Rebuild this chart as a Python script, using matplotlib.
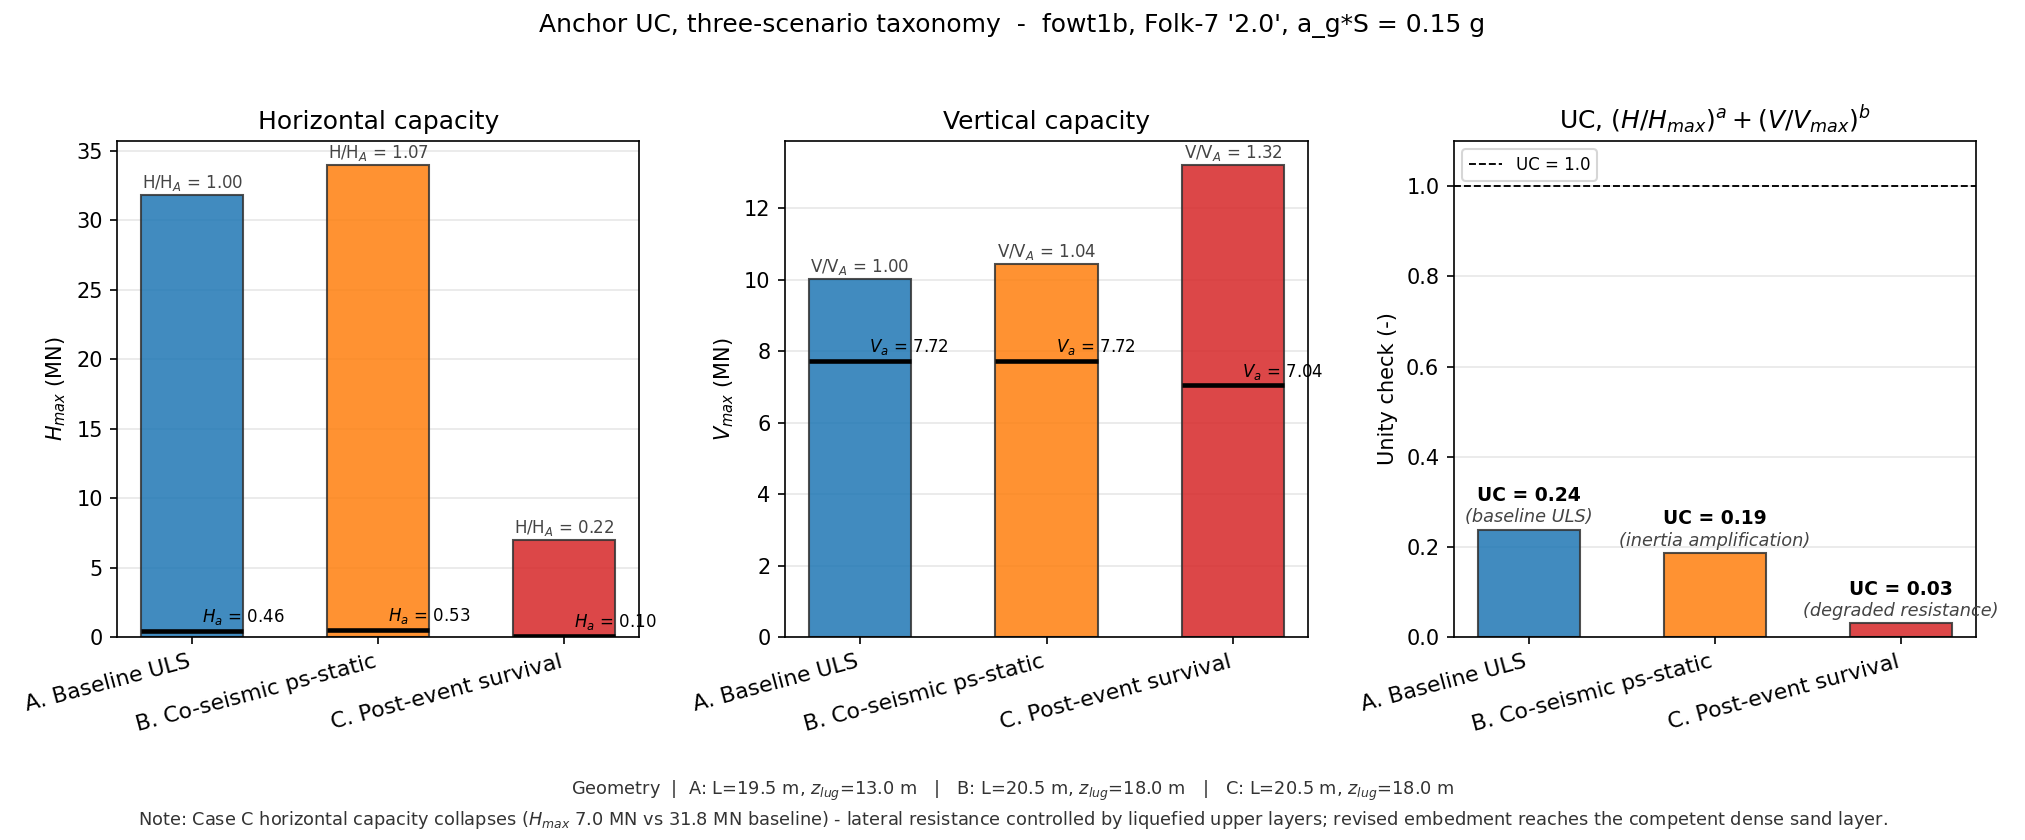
import matplotlib
matplotlib.use("Agg")
import matplotlib.pyplot as plt
import numpy as np

# scenario data
cases = ["A. Baseline ULS", "B. Co-seismic ps-static", "C. Post-event survival"]
H_max = [31.8, 34.0, 7.0]
H_a = [0.46, 0.53, 0.10]
V_max = [10.03, 10.45, 13.22]
V_a = [7.72, 7.72, 7.04]
UC = [0.238, 0.186, 0.030]
UC_notes = ["(baseline ULS)", "(inertia amplification)", "(degraded resistance)"]
colors = ["#1f77b4", "#ff7f0e", "#d62728"]

x = np.arange(len(cases))
w = 0.55

fig = plt.figure(figsize=(13.5, 5.6), dpi=150)
ax1 = fig.add_axes([0.058, 0.2417, 0.2576, 0.5903])
ax2 = fig.add_axes([0.3877, 0.2417, 0.2583, 0.5903])
ax3 = fig.add_axes([0.718, 0.2417, 0.2578, 0.5903])


def capacity_panel(ax, cap, act, sym, title, ylabel):
    ymax = max(cap) * 1.05
    ax.bar(x, cap, w, color=colors, alpha=0.85, edgecolor="#333333", linewidth=1.0, zorder=2)
    for i in range(len(cap)):
        ax.hlines(act[i], x[i] - w / 2, x[i] + w / 2, color="black", linewidth=2.2, zorder=3)
        ax.text(x[i] + 0.05, act[i] + 0.008 * ymax, r"$%s_a$ = %.2f" % (sym, act[i]),
                ha="left", va="bottom", fontsize=8, zorder=4)
        ax.text(x[i], cap[i] + 0.004 * ymax, r"%s/%s$_A$ = %.2f" % (sym, sym, cap[i] / cap[0]),
                ha="center", va="bottom", fontsize=8, color="#444444", zorder=4)
    ax.set_ylim(0, ymax)
    ax.set_title(title, fontsize=12)
    ax.set_ylabel(ylabel, fontsize=10)
    ax.set_xticks(x)
    ax.set_xticklabels(cases, rotation=15, ha="right", fontsize=10.5)
    ax.grid(axis="y", alpha=0.3, zorder=0)
    ax.set_axisbelow(True)


capacity_panel(ax1, H_max, H_a, "H", "Horizontal capacity", r"$H_{max}$ (MN)")
capacity_panel(ax2, V_max, V_a, "V", "Vertical capacity", r"$V_{max}$ (MN)")

# unity check panel
ax3.bar(x, UC, w, color=colors, alpha=0.85, edgecolor="#333333", linewidth=1.0, zorder=2)
ax3.axhline(1.0, color="black", linestyle="--", linewidth=0.9, label="UC = 1.0")
for i in range(len(UC)):
    ax3.text(x[i], UC[i] + 0.008, UC_notes[i], ha="center", va="bottom",
             fontsize=8.5, style="italic", color="#444444")
    ax3.text(x[i], UC[i] + 0.055, "UC = %.2f" % UC[i], ha="center", va="bottom",
             fontsize=9, fontweight="bold")
ax3.set_ylim(0, 1.1)
ax3.set_title(r"UC, $(H/H_{max})^a + (V/V_{max})^b$", fontsize=12)
ax3.set_ylabel("Unity check (-)", fontsize=10)
ax3.set_xticks(x)
ax3.set_xticklabels(cases, rotation=15, ha="right", fontsize=10.5)
ax3.grid(axis="y", alpha=0.3, zorder=0)
ax3.set_axisbelow(True)
ax3.legend(loc="upper left", fontsize=8)

fig.suptitle("Anchor UC, three-scenario taxonomy  -  fowt1b, Folk-7 '2.0', a_g*S = 0.15 g",
             fontsize=12, y=0.985)
fig.text(0.5, 0.059,
         r"Geometry  |  A: L=19.5 m, $z_{lug}$=13.0 m   |   B: L=20.5 m, $z_{lug}$=18.0 m   |   C: L=20.5 m, $z_{lug}$=18.0 m",
         ha="center", va="center", fontsize=8.5, color="#333333")
fig.text(0.5, 0.024,
         r"Note: Case C horizontal capacity collapses ($H_{max}$ 7.0 MN vs 31.8 MN baseline) - lateral resistance controlled by liquefied upper layers; revised embedment reaches the competent dense sand layer.",
         ha="center", va="center", fontsize=8.5, color="#333333")

fig.savefig("out.png", dpi=150)
